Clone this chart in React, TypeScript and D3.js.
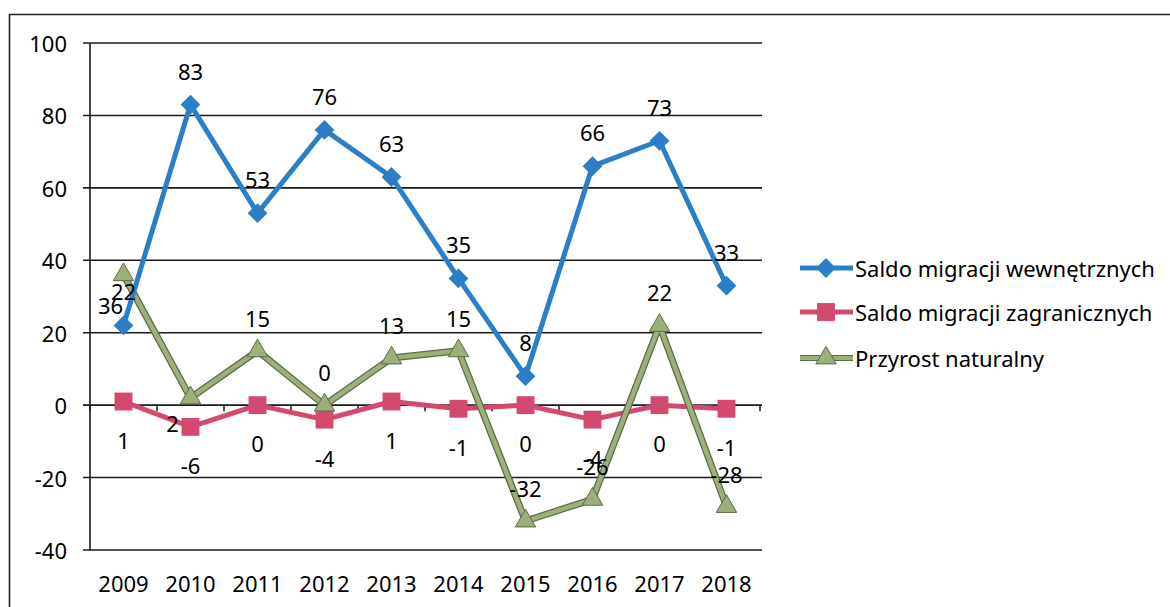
import React from "react";
import * as d3 from "d3";

const years = ["2009", "2010", "2011", "2012", "2013", "2014", "2015", "2016", "2017", "2018"];
const internal = [22, 83, 53, 76, 63, 35, 8, 66, 73, 33];
const foreign = [1, -6, 0, -4, 1, -1, 0, -4, 0, -1];
const natural = [36, 2, 15, 0, 13, 15, -32, -26, 22, -28];
const yTicks = [100, 80, 60, 40, 20, 0, -20, -40];
const seriesNames = ["Saldo migracji wewnętrznych", "Saldo migracji zagranicznych", "Przyrost naturalny"];

const W = 1170;
const H = 607;
const FONT = "'Noto Sans', 'Open Sans', sans-serif";

const BLUE = "#2a7fc6";
const RED = "#d4496e";
const GREEN = "#9cb07c";
const GREEN_DARK = "#5d6b48";

export default function App() {
  const x = d3.scaleBand<string>().domain(years).range([90, 760]);
  const y = d3.scaleLinear().domain([-40, 100]).range([550, 43]);
  const cx = (i: number) => (x(years[i]) as number) + x.bandwidth() / 2;
  const line = d3
    .line<number>()
    .x((_, i) => cx(i))
    .y((d) => y(d));

  const diamond = d3.symbol().type(d3.symbolDiamond2).size(250)() as string;
  const square = d3.symbol().type(d3.symbolSquare).size(320)() as string;
  const triangle = d3.symbol().type(d3.symbolTriangle).size(180)() as string;

  // per-label offsets (dx, dy) relative to point
  const greenOffsets: [number, number][] = years.map((_, i) =>
    i === 0 ? [-13, 30] : i === 1 ? [-18, 25] : [0, -33]
  );

  const fs = 22;
  const legendRows = [268, 312, 358];

  return (
    <svg
      width={W}
      height={H}
      style={{ position: "absolute", left: 0, top: 0, background: "#fff" }}
      fontFamily={FONT}
    >
      <rect x={0} y={0} width={W} height={H} fill="#fff" />
      {/* frame */}
      <path d={`M9.5,${H} V14.5 H${W}`} fill="none" stroke="#222" strokeWidth={1.6} />

      {/* gridlines */}
      {yTicks.map((t) => (
        <g key={t}>
          <line x1={83} x2={762} y1={y(t)} y2={y(t)} stroke="#1a1a1a" strokeWidth={1.6} />
          <text x={67} y={y(t)} textAnchor="end" dominantBaseline="central" fontSize={fs} fill="#000">
            {t}
          </text>
        </g>
      ))}
      {/* y axis */}
      <line x1={90} x2={90} y1={y(100)} y2={y(-40)} stroke="#1a1a1a" strokeWidth={1.6} />
      {/* x axis ticks at zero */}
      {d3.range(years.length + 1).map((i) => {
        const xx = 90 + i * x.bandwidth();
        return <line key={i} x1={xx} x2={xx} y1={y(0)} y2={y(0) + 6} stroke="#1a1a1a" strokeWidth={1.5} />;
      })}
      {years.map((yr, i) => (
        <text key={yr} x={cx(i)} y={583} textAnchor="middle" dominantBaseline="central" fontSize={fs} fill="#000">
          {yr}
        </text>
      ))}

      {/* red series */}
      <path d={line(foreign) as string} fill="none" stroke={RED} strokeWidth={5} strokeLinejoin="round" />
      {foreign.map((v, i) => (
        <path key={i} d={square} transform={`translate(${cx(i)},${y(v)})`} fill={RED} />
      ))}

      {/* green series */}
      <path d={line(natural) as string} fill="none" stroke={GREEN_DARK} strokeWidth={7} strokeLinejoin="round" />
      <path d={line(natural) as string} fill="none" stroke={GREEN} strokeWidth={4.5} strokeLinejoin="round" />
      {natural.map((v, i) => (
        <path
          key={i}
          d={triangle}
          transform={`translate(${cx(i)},${y(v)})`}
          fill={GREEN}
          stroke={GREEN_DARK}
          strokeWidth={1}
        />
      ))}

      {/* blue series */}
      <path d={line(internal) as string} fill="none" stroke={BLUE} strokeWidth={5} strokeLinejoin="round" />
      {internal.map((v, i) => (
        <path key={i} d={diamond} transform={`translate(${cx(i)},${y(v)})`} fill={BLUE} />
      ))}

      {/* data labels */}
      {internal.map((v, i) => (
        <text key={"b" + i} x={cx(i)} y={y(v) - 34} textAnchor="middle" dominantBaseline="central" fontSize={fs} fill="#000">
          {v}
        </text>
      ))}
      {foreign.map((v, i) => (
        <text key={"r" + i} x={cx(i)} y={y(v) + 38} textAnchor="middle" dominantBaseline="central" fontSize={fs} fill="#000">
          {v}
        </text>
      ))}
      {natural.map((v, i) => (
        <text
          key={"g" + i}
          x={cx(i) + greenOffsets[i][0]}
          y={y(v) + greenOffsets[i][1]}
          textAnchor="middle"
          dominantBaseline="central"
          fontSize={fs}
          fill="#000"
        >
          {v}
        </text>
      ))}

      {/* legend */}
      {seriesNames.map((name, i) => {
        const ly = legendRows[i];
        const color = i === 0 ? BLUE : i === 1 ? RED : GREEN;
        const sym = i === 0 ? diamond : i === 1 ? square : triangle;
        return (
          <g key={name}>
            {i === 2 && <line x1={800} x2={853} y1={ly} y2={ly} stroke={GREEN_DARK} strokeWidth={6} />}
            <line x1={800} x2={853} y1={ly} y2={ly} stroke={color} strokeWidth={i === 2 ? 4 : 5} />
            <path
              d={sym}
              transform={`translate(826,${ly})`}
              fill={color}
              stroke={i === 2 ? GREEN_DARK : "none"}
              strokeWidth={1}
            />
            <text x={855} y={ly} dominantBaseline="central" fontSize={fs} fill="#000">
              {name}
            </text>
          </g>
        );
      })}
    </svg>
  );
}
